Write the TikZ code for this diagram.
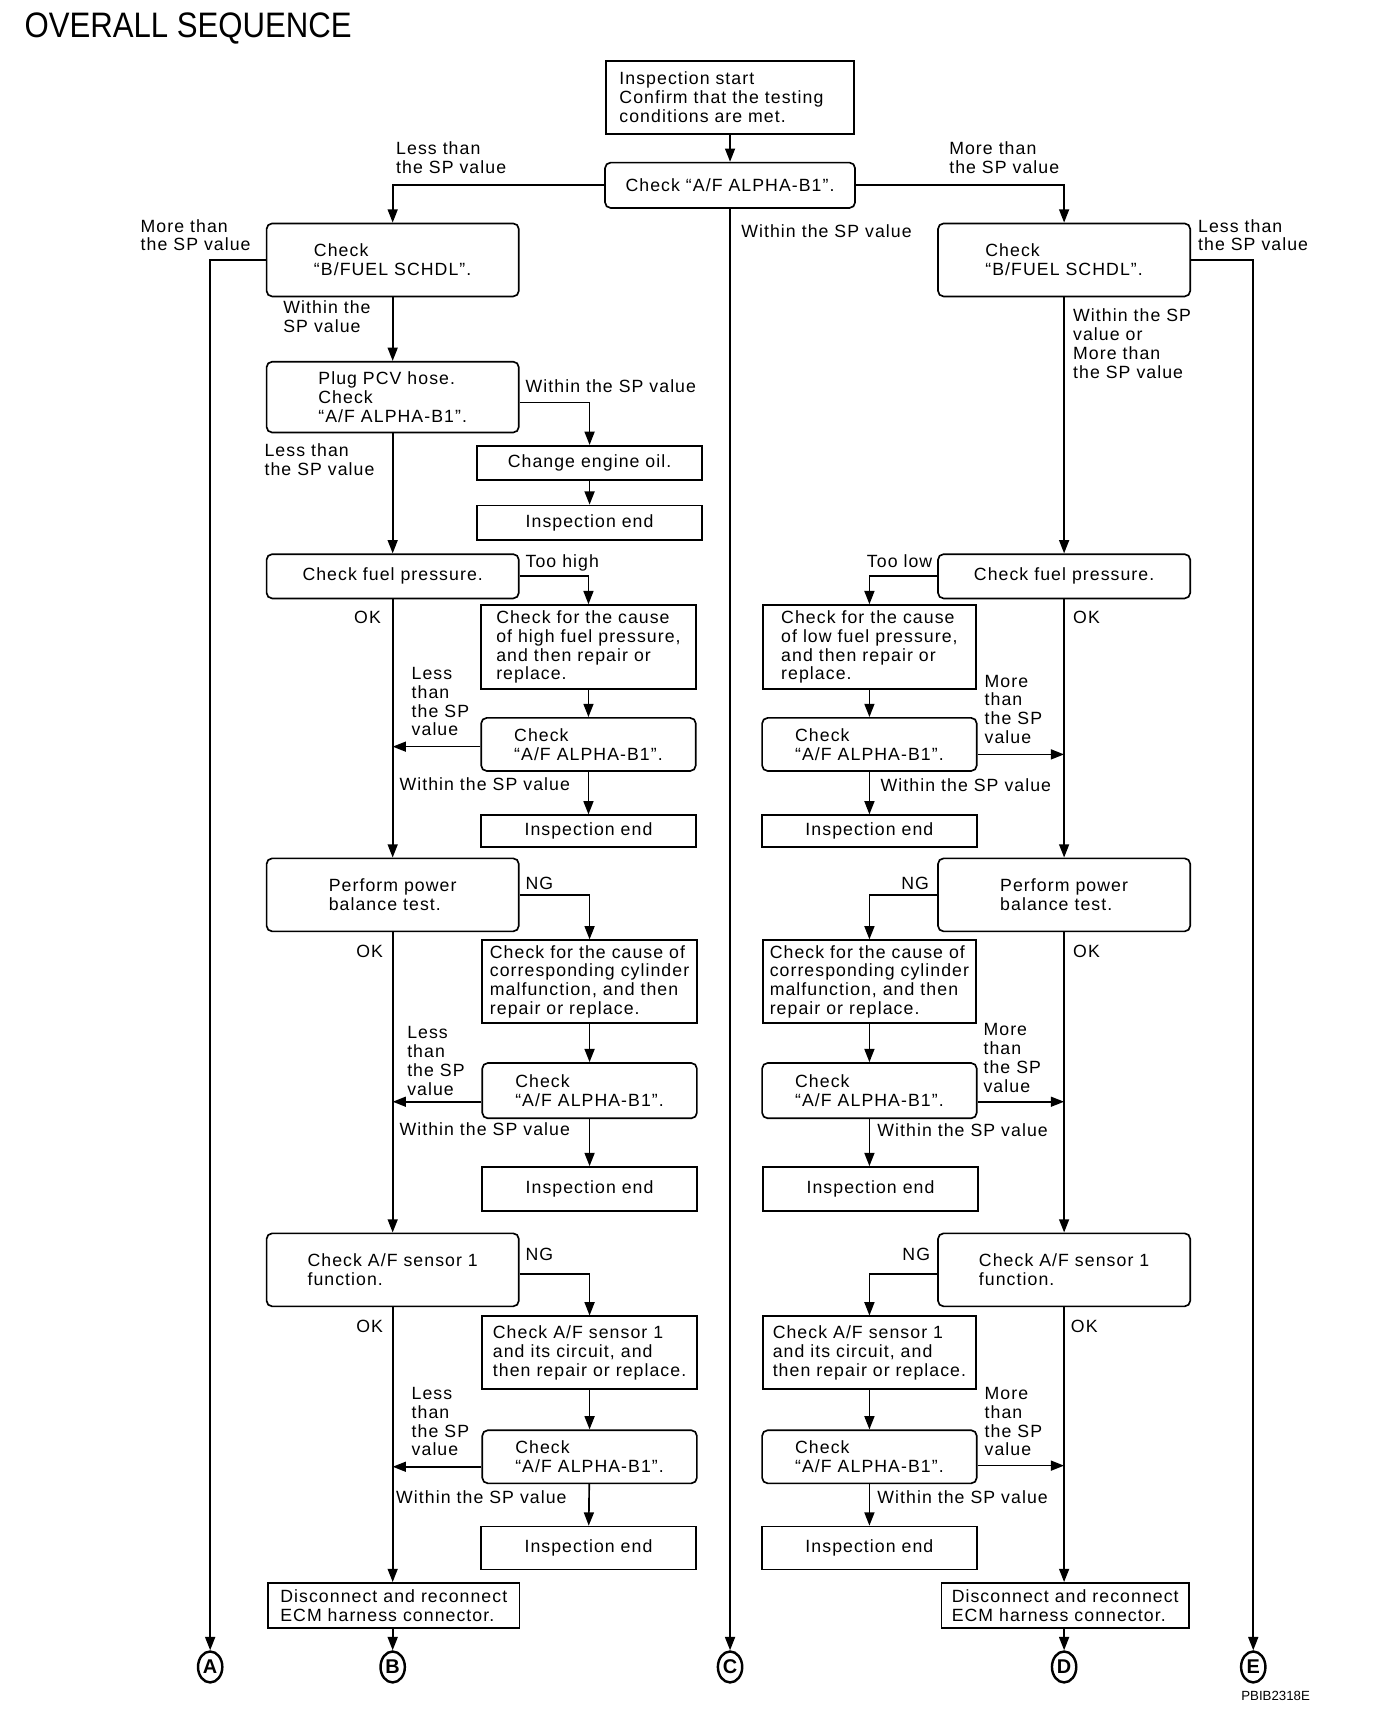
\documentclass[tikz,border=0pt]{standalone}
\usepackage{fontspec}
\usepackage{graphicx}
\setmainfont{Liberation Sans}[LetterSpace=6]
\newfontfamily\titlefont{Liberation Sans}
\newcommand{\boxfont}{\fontsize{16}{17}\selectfont}
\usepackage{tikz}
\usetikzlibrary{arrows.meta,shapes.geometric}
\tikzstyle{rbox}=[draw,rounded corners=5pt,line width=1.5pt,align=left,inner sep=0pt]
\tikzstyle{sbox}=[draw,rectangle,line width=1.5pt,align=left,inner sep=0pt]
\tikzstyle{tag}=[align=left,inner sep=0pt,anchor=north west]
\tikzstyle{flow}=[line width=1.5pt,-{Triangle[length=12pt,width=9pt]}]
\tikzstyle{endmark}=[draw,ellipse,line width=2.2pt,minimum width=22pt,minimum height=28pt,inner sep=0pt,font=\fontsize{18}{18}\selectfont\bfseries]

\begin{document}
\begin{tikzpicture}[x=1pt,y=-1pt,font=\boxfont]
      \useasboundingbox (0,0) rectangle (1244,1564);
      \node [anchor=north west,inner sep=0pt] (title) at (22,11) {\titlefont\fontsize{32}{32}\selectfont\scalebox{0.88}[1]{OVERALL SEQUENCE}};
      \node [anchor=north west,inner sep=0pt] (code) at (1122,1529) {\titlefont\fontsize{12}{12}\selectfont PBIB2318E};

      \node [sbox,line width=2pt,minimum width=224pt,minimum height=66pt,text width=200pt,inner xsep=12pt] (start) at (660,88) {Inspection start\\Confirm that the testing\\conditions are met.};
      \node [rbox,minimum width=226pt,minimum height=41pt] (chk) at (660,167.5) {Check “A/F ALPHA-B1”.};
      \node [rbox,minimum width=228pt,minimum height=66pt] (fuelL) at (355,235) {Check\\“B/FUEL SCHDL”.};
      \node [rbox,minimum width=228pt,minimum height=66pt] (fuelR) at (962,235) {Check\\“B/FUEL SCHDL”.};
      \node [rbox,minimum width=228pt,minimum height=64pt] (pcv) at (355,359) {Plug PCV hose.\\Check\\“A/F ALPHA-B1”.};
      \node [sbox,minimum width=203pt,minimum height=31pt] (oil) at (533,418.5) {Change engine oil.};
      \node [sbox,minimum width=203pt,minimum height=31pt] (endOil) at (533,472.5) {Inspection end};

      \node [rbox,minimum width=228pt,minimum height=40pt] (fpL) at (355,521) {Check fuel pressure.};
      \node [sbox,minimum width=194pt,minimum height=76pt] (hiCause) at (532,585) {Check for the cause\\of high fuel pressure,\\and then repair or\\replace.};
      \node [rbox,minimum width=194pt,minimum height=48pt] (alphaL1) at (532,673) {Check\\“A/F ALPHA-B1”.};
      \node [sbox,minimum width=194pt,minimum height=29pt] (endL1) at (532,751.5) {Inspection end};
      \node [rbox,minimum width=228pt,minimum height=66pt] (pbL) at (355,809) {Perform power\\balance test.};
      \node [sbox,minimum width=194pt,minimum height=75pt] (cylL) at (533,887.5) {Check for the cause of\\corresponding cylinder\\malfunction, and then\\repair or replace.};
      \node [rbox,minimum width=194pt,minimum height=50pt] (alphaL2) at (533,986) {Check\\“A/F ALPHA-B1”.};
      \node [sbox,minimum width=194pt,minimum height=40pt] (endL2) at (533,1075) {Inspection end};
      \node [rbox,minimum width=228pt,minimum height=66pt] (sensL) at (355,1148) {Check A/F sensor 1\\function.};
      \node [sbox,minimum width=194pt,minimum height=66pt] (circL) at (533,1223) {Check A/F sensor 1\\and its circuit, and\\then repair or replace.};
      \node [rbox,minimum width=194pt,minimum height=48pt] (alphaL3) at (533,1317) {Check\\“A/F ALPHA-B1”.};
      \node [sbox,minimum width=194pt,minimum height=39pt] (endL3) at (532,1399.5) {Inspection end};
      \node [sbox,minimum width=227pt,minimum height=41pt] (ecmL) at (356,1451.5) {Disconnect and reconnect\\ECM harness connector.};

      \node [rbox,minimum width=228pt,minimum height=40pt] (fpR) at (962,521) {Check fuel pressure.};
      \node [sbox,minimum width=193pt,minimum height=76pt] (loCause) at (786,585) {Check for the cause\\of low fuel pressure,\\and then repair or\\replace.};
      \node [rbox,minimum width=194pt,minimum height=48pt] (alphaR1) at (786,673) {Check\\“A/F ALPHA-B1”.};
      \node [sbox,minimum width=194pt,minimum height=29pt] (endR1) at (786,751.5) {Inspection end};
      \node [rbox,minimum width=228pt,minimum height=66pt] (pbR) at (962,809) {Perform power\\balance test.};
      \node [sbox,minimum width=193pt,minimum height=75pt] (cylR) at (786,887.5) {Check for the cause of\\corresponding cylinder\\malfunction, and then\\repair or replace.};
      \node [rbox,minimum width=194pt,minimum height=50pt] (alphaR2) at (786,986) {Check\\“A/F ALPHA-B1”.};
      \node [sbox,minimum width=194pt,minimum height=40pt] (endR2) at (787,1075) {Inspection end};
      \node [rbox,minimum width=228pt,minimum height=66pt] (sensR) at (962,1148) {Check A/F sensor 1\\function.};
      \node [sbox,minimum width=193pt,minimum height=66pt] (circR) at (786,1223) {Check A/F sensor 1\\and its circuit, and\\then repair or replace.};
      \node [rbox,minimum width=194pt,minimum height=48pt] (alphaR3) at (786,1317) {Check\\“A/F ALPHA-B1”.};
      \node [sbox,minimum width=194pt,minimum height=39pt] (endR3) at (786,1399.5) {Inspection end};
      \node [sbox,minimum width=224pt,minimum height=41pt] (ecmR) at (963,1451.5) {Disconnect and reconnect\\ECM harness connector.};

      \node [endmark] (cA) at (190,1507) {A};
      \node [endmark] (cB) at (355,1507) {B};
      \node [endmark] (cC) at (660,1507) {C};
      \node [endmark] (cD) at (962,1507) {D};
      \node [endmark] (cE) at (1133,1507) {E};

      \draw [flow] (start) -- (chk);
      \draw [flow] (chk.west) -| (fuelL.north);
      \draw [flow] (chk.east) -| (fuelR.north);
      \draw [flow] (chk) -- (cC);
      \draw [flow] (fuelL.west) -| (cA.north);
      \draw [flow] (fuelR.east) -| (cE.north);
      \draw [flow] (fuelL) -- (pcv);
      \draw [flow] (fuelR) -- (fpR);
      \draw [flow] ([yshift=-5pt]pcv.east) -| (oil.north);
      \draw [flow] (oil) -- (endOil);
      \draw [flow] (pcv) -- (fpL);

      \draw [flow] (fpL.east) -| (hiCause.north);
      \draw [flow] (fpL) -- (pbL);
      \draw [flow] (hiCause) -- (alphaL1);
      \draw [flow] ([yshift=-2pt]alphaL1.west) -- ([yshift=-2pt]alphaL1.west -| fpL.south);
      \draw [flow] (alphaL1) -- (endL1);
      \draw [flow] (pbL.east) -| (cylL.north);
      \draw [flow] (pbL) -- (sensL);
      \draw [flow] (cylL) -- (alphaL2);
      \draw [flow] ([yshift=-10pt]alphaL2.west) -- ([yshift=-10pt]alphaL2.west -| pbL.south);
      \draw [flow] (alphaL2) -- (endL2);
      \draw [flow] ([yshift=-4pt]sensL.east) -| (circL.north);
      \draw [flow] (sensL.south) -- (sensL.south |- ecmL.north);
      \draw [flow] (circL) -- (alphaL3);
      \draw [flow] ([yshift=-9pt]alphaL3.west) -- ([yshift=-9pt]alphaL3.west -| sensL.south);
      \draw [flow] (alphaL3) -- (endL3);
      \draw [flow] (ecmL.south -| cB) -- (cB);

      \draw [flow] (fpR.west) -| (loCause.north);
      \draw [flow] (fpR) -- (pbR);
      \draw [flow] (loCause) -- (alphaR1);
      \draw [flow] ([yshift=-9pt]alphaR1.east) -- ([yshift=-9pt]alphaR1.east -| fpR.south);
      \draw [flow] (alphaR1) -- (endR1);
      \draw [flow] (pbR.west) -| (cylR.north);
      \draw [flow] (pbR) -- (sensR);
      \draw [flow] (cylR) -- (alphaR2);
      \draw [flow] ([yshift=-10pt]alphaR2.east) -- ([yshift=-10pt]alphaR2.east -| pbR.south);
      \draw [flow] (alphaR2.south) -- (alphaR2.south |- endR2.north);
      \draw [flow] ([yshift=-4pt]sensR.west) -| (circR.north);
      \draw [flow] (sensR) -- (sensR |- ecmR.north);
      \draw [flow] (circR) -- (alphaR3);
      \draw [flow] ([yshift=-8pt]alphaR3.east) -- ([yshift=-8pt]alphaR3.east -| sensR.south);
      \draw [flow] (alphaR3) -- (endR3);
      \draw [flow] (ecmR.south -| cD) -- (cD);

      \node [tag] (t1) at (358,128) {Less than\\the SP value};
      \node [tag] (t2) at (858,128) {More than\\the SP value};
      \node [tag] (t3) at (670,203) {Within the SP value};
      \node [tag] (t4) at (127,198) {More than\\the SP value};
      \node [tag] (t5) at (1083,198) {Less than\\the SP value};
      \node [tag] (t6) at (256,272) {Within the\\SP value};
      \node [tag] (t7) at (970,279) {Within the SP\\value or\\More than\\the SP value};
      \node [tag] (t8) at (475,343) {Within the SP value};
      \node [tag] (t9) at (239,401) {Less than\\the SP value};
      \node [tag] (t10) at (475,501) {Too high};
      \node [tag,anchor=north east] (t11) at (843,501) {Too low};
      \node [tag] (t12) at (320,552) {OK};
      \node [tag] (t13) at (970,552) {OK};
      \node [tag] (t14) at (372,603) {Less\\than\\the SP\\value};
      \node [tag] (t15) at (890,610) {More\\than\\the SP\\value};
      \node [tag] (t16) at (361,703) {Within the SP value};
      \node [tag] (t17) at (796,704) {Within the SP value};
      \node [tag] (t18) at (475,793) {NG};
      \node [tag,anchor=north east] (t19) at (840,793) {NG};
      \node [tag] (t20) at (322,854) {OK};
      \node [tag] (t21) at (970,854) {OK};
      \node [tag] (t22) at (368,928) {Less\\than\\the SP\\value};
      \node [tag] (t23) at (889,925) {More\\than\\the SP\\value};
      \node [tag] (t24) at (361,1015) {Within the SP value};
      \node [tag] (t25) at (793,1016) {Within the SP value};
      \node [tag] (t26) at (475,1128) {NG};
      \node [tag,anchor=north east] (t27) at (841,1128) {NG};
      \node [tag] (t28) at (322,1193) {OK};
      \node [tag] (t29) at (968,1193) {OK};
      \node [tag] (t30) at (372,1254) {Less\\than\\the SP\\value};
      \node [tag] (t31) at (890,1254) {More\\than\\the SP\\value};
      \node [tag] (t32) at (358,1347) {Within the SP value};
      \node [tag] (t33) at (793,1347) {Within the SP value};
    \end{tikzpicture}
\end{document}
